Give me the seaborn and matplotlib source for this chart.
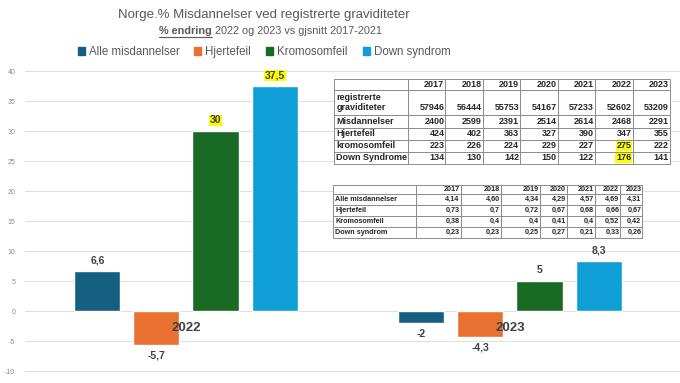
import pandas as pd
import numpy as np
import matplotlib.pyplot as plt
import seaborn as sns

# data
aar = ['2022', '2023']
typer = ['Alle misdannelser', 'Hjertefeil', 'Kromosomfeil', 'Down syndrom']
endring_2022 = [6.6, -5.7, 30, 37.5]
endring_2023 = [-2, -4.3, 5, 8.3]
farger = ['#156082', '#E97132', '#196B24', '#0F9ED5']

tab_aar = ['2017', '2018', '2019', '2020', '2021', '2022', '2023']
registrerte = [57946, 56444, 55753, 54167, 57233, 52602, 53209]
misdannelser = [2400, 2599, 2391, 2514, 2614, 2468, 2291]
hjertefeil = [424, 402, 363, 327, 390, 347, 355]
kromosomfeil = [223, 226, 224, 229, 227, 275, 222]
down = [134, 130, 142, 150, 122, 176, 141]

pst_alle = ['4,14', '4,60', '4,34', '4,29', '4,57', '4,69', '4,31']
pst_hjerte = ['0,73', '0,7', '0,72', '0,67', '0,68', '0,66', '0,67']
pst_kromo = ['0,38', '0,4', '0,4', '0,41', '0,4', '0,52', '0,42']
pst_down = ['0,23', '0,23', '0,25', '0,27', '0,21', '0,33', '0,26']

df = pd.DataFrame({
    'aar': np.repeat(aar, len(typer)),
    'type': typer * 2,
    'endring': endring_2022 + endring_2023,
})

sns.set_style('white')
plt.rcParams['font.family'] = ['Liberation Sans', 'DejaVu Sans']
plt.rcParams['axes.unicode_minus'] = False
grey = '#595959'

W, H = 680, 383
fig = plt.figure(figsize=(6.8, 3.83), dpi=100)
ax = fig.add_axes([25 / W, 12 / H, 655 / W, 300 / H])

sns.barplot(data=df, x='aar', y='endring', hue='type', palette=farger,
            width=0.73, gap=0.22, ax=ax, saturation=1, legend=False)

ax.set_ylim(-10, 40)
ax.set_xlim(-0.497, 1.525)
ax.set_yticks(np.arange(-10, 41, 5))
ax.tick_params(axis='y', labelsize=5, colors='#8c8c8c', length=0, pad=7)
ax.set_xticks([])
ax.set_xlabel('')
ax.set_ylabel('')
ax.grid(axis='y', color='#e0e0e0', lw=0.8, clip_on=False)
ax.set_axisbelow(True)
for s in ax.spines.values():
    s.set_visible(False)

for cont in ax.containers:
    labs = [f'{v:g}'.replace('.', ',') for v in cont.datavalues]
    txts = ax.bar_label(cont, labels=labs, padding=4, fontsize=7.5,
                        fontweight='bold', color='#404040')
    for t in txts:
        if t.get_text() in ('30', '37,5'):
            t.set_bbox(dict(facecolor='#FFFF00', edgecolor='none', pad=0.6))

for i, a in enumerate(aar):
    ax.text(i, -2.8, a, ha='center', va='center', fontsize=9.5,
            fontweight='bold', color='#404040')

# titles
cx = 264 / W
fig.text(cx, 1 - 15 / H, 'Norge.% Misdannelser ved registrerte graviditeter',
         ha='center', va='center', fontsize=9.5, color=grey)
split = 212 / W
t1 = fig.text(split, 1 - 31 / H, '% endring', ha='right', va='center',
              fontsize=7.8, fontweight='bold', color=grey)
fig.text(split, 1 - 31 / H, ' 2022 og 2023 vs gjsnitt 2017-2021', ha='left',
         va='center', fontsize=7.8, color=grey)

handles = [plt.Rectangle((0, 0), 1, 1, color=c) for c in farger]
fig.legend(handles, typer, loc='center', bbox_to_anchor=(cx, 1 - 52 / H),
           ncol=4, frameon=False, handlelength=0.6, handleheight=0.6,
           handletextpad=0.35, columnspacing=1.3,
           prop={'size': 8.3}, labelcolor=grey)

# table 1
ax_t1 = fig.add_axes([334 / W, 1 - 164 / H, 336 / W, 85 / H])
ax_t1.axis('off')
rader1 = [['registrerte\ngraviditeter'] + ['\n' + str(v) for v in registrerte],
          ['Misdannelser'] + [str(v) for v in misdannelser],
          ['Hjertefeil'] + [str(v) for v in hjertefeil],
          ['kromosomfeil'] + [str(v) for v in kromosomfeil],
          ['Down Syndrome'] + [str(v) for v in down]]
cells1 = [[''] + tab_aar] + rader1
tab1 = ax_t1.table(cellText=cells1, bbox=[0, 0, 1, 1],
                   colWidths=[74] + [37.4] * 7)
tab1.auto_set_font_size(False)
hoyder1 = [11, 25, 12, 12, 12, 12]
for (r, c), cell in tab1.get_celld().items():
    cell.set_edgecolor('#8c8c8c')
    cell.set_linewidth(0.7)
    cell.set_height(hoyder1[r] / 85)
    txt = cell.get_text()
    txt.set_fontsize(6.5)
    txt.set_fontweight('bold')
    cell.PAD = 0.03
    if c == 0:
        txt.set_ha('left')
        cell._loc = 'left'
    else:
        txt.set_ha('right')
        cell._loc = 'right'
    if r in (4, 5) and c == 6:
        txt.set_bbox(dict(facecolor='#FFFF00', edgecolor='none', pad=0.5))

# table 2
ax_t2 = fig.add_axes([333 / W, 1 - 238 / H, 309 / W, 53 / H])
ax_t2.axis('off')
cells2 = [[''] + tab_aar,
          ['Alle misdannelser'] + pst_alle,
          ['Hjertefeil'] + pst_hjerte,
          ['Kromosomfeil'] + pst_kromo,
          ['Down syndrom'] + pst_down]
tab2 = ax_t2.table(cellText=cells2, bbox=[0, 0, 1, 1],
                   colWidths=[83, 45, 40, 39, 27, 28, 25, 22])
tab2.auto_set_font_size(False)
hoyder2 = [9, 11, 11, 11, 11]
for (r, c), cell in tab2.get_celld().items():
    cell.set_edgecolor('#8c8c8c')
    cell.set_linewidth(0.7)
    cell.set_height(hoyder2[r] / 53)
    txt = cell.get_text()
    txt.set_fontsize(5.2)
    txt.set_fontweight('bold')
    cell.PAD = 0.03
    if c == 0:
        txt.set_ha('left')
        cell._loc = 'left'
    else:
        txt.set_ha('right')
        cell._loc = 'right'

# underline for "% endring"
fig.canvas.draw()
bb = t1.get_window_extent()
fig.add_artist(plt.Line2D([bb.x0 / W, bb.x1 / W], [(bb.y0 - 0.5) / H] * 2,
                          color=grey, lw=0.8))

fig.savefig('out.png', dpi=100)
